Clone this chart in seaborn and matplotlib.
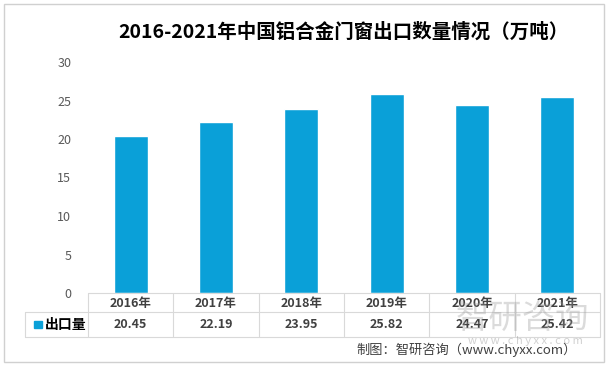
import matplotlib
matplotlib.use('Agg')
import matplotlib.pyplot as plt
import seaborn as sns
import pandas as pd
from matplotlib.patches import Rectangle

# data
years = ['2016年', '2017年', '2018年', '2019年', '2020年', '2021年']
export_volume = [20.45, 22.19, 23.95, 25.82, 24.47, 25.42]
series_name = '出口量'
title = '2016-2021年中国铝合金门窗出口数量情况（万吨）'
source = '制图：智研咨询（www.chyxx.com）'

sns.set_theme(style='white')
plt.rcParams['font.family'] = ['Noto Sans CJK SC', 'DejaVu Sans']

W, H = 610, 367
fig = plt.figure(figsize=(W / 100, H / 100), dpi=100)
fig.patch.set_facecolor('white')

bar_color = '#0aa0d8'
grid_color = '#d9d9d9'
text_color = '#404040'


def fx(px):
    return px / W


def fy(py):
    return 1 - py / H


# main axes: x from 88 to 600 px, y from 62 (30) to 293 (0)
ax = fig.add_axes([fx(88), fy(293), fx(600 - 88), (293 - 62) / H])
df = pd.DataFrame({'year': years, 'value': export_volume})
sns.barplot(data=df, x='year', y='value', color=bar_color, width=0.4,
            saturation=1, ax=ax)
ax.set_xlim(-0.5, len(years) - 0.5)
ax.set_ylim(0, 30)
ax.set_yticks(range(0, 31, 5))
ax.tick_params(axis='y', labelsize=9, colors='#595959', length=0, pad=12)
ax.set_xticks([])
ax.set_xlabel('')
ax.set_ylabel('')
for s in ax.spines.values():
    s.set_visible(False)

# data table below the chart
unit = (600 - 88) / len(years)
left = -0.5 - (88 - 25) / unit
tab = fig.add_axes([fx(25), fy(337), fx(600 - 25), (337 - 293) / H])
tab.set_xlim(left, len(years) - 0.5)
tab.set_ylim(0, 2)
tab.axis('off')
# header row 19px tall, data row 25px tall
y_mid = (337 - 312) / (337 - 293) * 2
lw = 0.8
tab.plot([-0.5, len(years) - 0.5], [2, 2], color=grid_color, lw=lw, clip_on=False)
tab.plot([left, len(years) - 0.5], [y_mid, y_mid], color=grid_color, lw=lw, clip_on=False)
tab.plot([left, len(years) - 0.5], [0, 0], color=grid_color, lw=lw, clip_on=False)
for i in range(len(years) + 1):
    tab.plot([i - 0.5, i - 0.5], [0, 2], color=grid_color, lw=lw, clip_on=False)
tab.plot([left, left], [0, y_mid], color=grid_color, lw=lw, clip_on=False)

for i, (yr, v) in enumerate(zip(years, export_volume)):
    tab.text(i, (2 + y_mid) / 2 - 0.05, yr, ha='center', va='center', fontsize=9,
             fontweight='bold', color=text_color)
    tab.text(i, y_mid / 2, f'{v:.2f}', ha='center', va='center', fontsize=9,
             fontweight='bold', color=text_color)
tab.add_patch(Rectangle((left + 0.1, y_mid / 2 - 0.17), 0.1, 0.34,
                        color=bar_color, clip_on=False))
tab.text(left + 0.23, y_mid / 2, series_name, ha='left', va='center',
         fontsize=10, fontweight='bold', color='black')

# title
fig.text(fx(343), fy(32), title, ha='center', va='center', fontsize=14,
         fontweight='bold', color='black')

# watermark (faint, behind the table text)
fig.text(fx(522), fy(318), '智研咨询', ha='center', va='center', fontsize=24,
         color='#9a9a9a', alpha=0.35, zorder=0)
fig.text(fx(525), fy(341), 'w w w . c h y x x . c o m', ha='center', va='center',
         fontsize=8, color='#9a9a9a', alpha=0.45, zorder=0)

# source note
fig.text(fx(577), fy(350), source, ha='right', va='center', fontsize=9.5,
         color=text_color)

# outer frame
fig.add_artist(Rectangle((fx(4), fy(362)), fx(600), (362 - 4) / H,
                         transform=fig.transFigure, fill=False,
                         edgecolor='#d0d0d0', lw=1))

fig.savefig('out.png', dpi=100)
